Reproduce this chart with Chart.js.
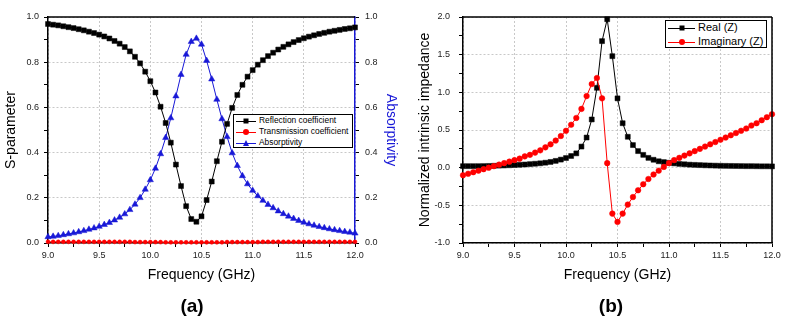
<!DOCTYPE html>
<html lang="en">
<head>
<meta charset="UTF-8">
<title>Absorber S-parameters and impedance</title>
<script src="https://cdn.jsdelivr.net/npm/chart.js"></script>
<style>
    body { margin: 0; background: #fff; font-family: 'Liberation Sans', Arial, sans-serif; }
    #wrap { position: relative; width: 787px; height: 320px; overflow: hidden; }
    canvas { position: absolute; top: 0; }
    #chartA { left: 0; }
    #chartB { left: 400px; }
    .legend { position: absolute; background: #fff; border: 1px solid #000; box-sizing: border-box; color: #000; }
    .legend .row { position: absolute; left: 2px; white-space: nowrap; }
    .legend .sample { position: absolute; left: 0; top: 0; height: 100%; }
    .legend .sample::before { content: ''; position: absolute; left: 0; right: 0; top: 50%; border-top: 1px solid var(--c); }
    .legend .mk { position: absolute; left: 50%; top: 50%; transform: translate(-50%, -50%); background: var(--c); }
    .legend .mk.rect { width: 5px; height: 5px; }
    .legend .mk.circle { width: 6px; height: 6px; border-radius: 50%; }
    .legend .mk.triangle { width: 0; height: 0; background: none; border-left: 3px solid transparent; border-right: 3px solid transparent; border-bottom: 6px solid var(--c); }
    .legend .txt { position: absolute; top: 0; }
    .panel { position: absolute; top: 295px; font-weight: bold; font-size: 19px; color: #000; transform: translateX(-50%); }
</style>
</head>
<body>
<div id="wrap">
    <canvas id="chartA" width="400" height="320"></canvas>
    <canvas id="chartB" width="387" height="320"></canvas>
    <div id="legendA" class="legend" style="left:233px; top:114px; width:120px; height:34px; font-size:8.4px;"></div>
    <div id="legendB" class="legend" style="left:665px; top:20px; width:102px; height:28px; font-size:11px;"></div>
    <div class="panel" style="left:192px;">(a)</div>
    <div class="panel" style="left:611px;">(b)</div>
</div>

<script>
// frequency axis, GHz
var freq = [
    9.00, 9.05, 9.10, 9.15, 9.20, 9.25, 9.30, 9.35, 9.40, 9.45,
    9.50, 9.55, 9.60, 9.65, 9.70, 9.75, 9.80, 9.85, 9.90, 9.95,
    10.00, 10.05, 10.10, 10.15, 10.20, 10.25, 10.30, 10.35, 10.40, 10.45,
    10.50, 10.55, 10.60, 10.65, 10.70, 10.75, 10.80, 10.85, 10.90, 10.95,
    11.00, 11.05, 11.10, 11.15, 11.20, 11.25, 11.30, 11.35, 11.40, 11.45,
    11.50, 11.55, 11.60, 11.65, 11.70, 11.75, 11.80, 11.85, 11.90, 11.95,
    12.00
];

// panel (a)
var reflection = [
    0.969, 0.966, 0.963, 0.959, 0.955, 0.951, 0.946, 0.941, 0.935, 0.929,
    0.922, 0.914, 0.905, 0.894, 0.882, 0.867, 0.848, 0.824, 0.795, 0.758,
    0.716, 0.666, 0.603, 0.531, 0.444, 0.347, 0.252, 0.163, 0.106, 0.094,
    0.118, 0.190, 0.272, 0.362, 0.448, 0.527, 0.598, 0.655, 0.700, 0.736,
    0.765, 0.789, 0.809, 0.827, 0.842, 0.856, 0.868, 0.879, 0.889, 0.898,
    0.906, 0.913, 0.919, 0.925, 0.930, 0.935, 0.939, 0.943, 0.947, 0.950,
    0.954
];
var transmission = [
    0.005, 0.005, 0.005, 0.005, 0.005, 0.005, 0.005, 0.005, 0.005, 0.005,
    0.005, 0.005, 0.005, 0.005, 0.005, 0.005, 0.005, 0.004, 0.004, 0.004,
    0.004, 0.004, 0.004, 0.003, 0.003, 0.003, 0.003, 0.003, 0.003, 0.003,
    0.003, 0.003, 0.003, 0.003, 0.003, 0.004, 0.004, 0.004, 0.004, 0.004,
    0.004, 0.004, 0.005, 0.005, 0.005, 0.005, 0.005, 0.005, 0.005, 0.005,
    0.005, 0.005, 0.005, 0.005, 0.005, 0.005, 0.005, 0.005, 0.005, 0.005,
    0.005
];
var absorptivity = [
    0.027, 0.029, 0.032, 0.036, 0.040, 0.044, 0.049, 0.054, 0.060, 0.066,
    0.073, 0.081, 0.090, 0.101, 0.113, 0.128, 0.147, 0.171, 0.200, 0.237,
    0.279, 0.330, 0.394, 0.466, 0.553, 0.650, 0.745, 0.834, 0.891, 0.905,
    0.879, 0.807, 0.725, 0.635, 0.549, 0.470, 0.398, 0.342, 0.297, 0.261,
    0.232, 0.208, 0.188, 0.170, 0.155, 0.141, 0.129, 0.118, 0.108, 0.099,
    0.091, 0.084, 0.078, 0.072, 0.067, 0.062, 0.058, 0.054, 0.050, 0.047,
    0.043
];

// panel (b)
var realZ = [
    0.020, 0.020, 0.020, 0.020, 0.021, 0.023, 0.025, 0.027, 0.029, 0.032,
    0.035, 0.038, 0.042, 0.047, 0.052, 0.058, 0.066, 0.076, 0.090, 0.107,
    0.128, 0.155, 0.190, 0.280, 0.400, 0.640, 1.060, 1.680, 1.970, 1.480,
    0.920, 0.590, 0.410, 0.300, 0.220, 0.170, 0.130, 0.105, 0.085, 0.074,
    0.065, 0.057, 0.050, 0.045, 0.040, 0.037, 0.034, 0.031, 0.029, 0.027,
    0.025, 0.024, 0.023, 0.022, 0.021, 0.020, 0.020, 0.019, 0.018, 0.018,
    0.017
];
var imagZ = [
    -0.10, -0.08, -0.06, -0.04, -0.02, 0.00, 0.02, 0.04, 0.06, 0.08,
    0.10, 0.12, 0.15, 0.17, 0.20, 0.23, 0.27, 0.31, 0.36, 0.42,
    0.49, 0.57, 0.66, 0.78, 0.95, 1.11, 1.19, 0.92, 0.06, -0.61,
    -0.72, -0.61, -0.49, -0.39, -0.30, -0.22, -0.15, -0.09, -0.04, 0.01,
    0.06, 0.10, 0.13, 0.16, 0.19, 0.22, 0.25, 0.28, 0.31, 0.34,
    0.37, 0.40, 0.43, 0.46, 0.49, 0.52, 0.56, 0.59, 0.63, 0.67,
    0.71
];

var BLUE = 'rgb(24, 24, 215)';
var RED = 'rgb(255, 0, 0)';
var GRID = 'rgb(200, 200, 200)';

Chart.defaults.font.family = "'Liberation Sans', Arial, sans-serif";
Chart.defaults.color = '#222';

function pts(ys) {
    return freq.map(function (f, i) { return { x: f, y: ys[i] }; });
}

function isMajor(v, step) {
    return Math.abs(v / step - Math.round(v / step)) < 1e-6;
}

// axis with minor ticks: labels and grid lines only at the major step
function axis(min, max, minor, major, extra) {
    var a = {
        type: 'linear',
        min: min,
        max: max,
        ticks: {
            stepSize: minor,
            autoSkip: false,
            maxRotation: 0,
            font: { size: 9 },
            callback: function (v) { return isMajor(v, major) ? v.toFixed(1) : ''; }
        },
        grid: {
            color: function (c) { return c.tick && isMajor(c.tick.value, major) ? GRID : 'transparent'; },
            tickColor: '#000',
            tickLength: 4,
            lineWidth: 1
        },
        border: { display: true, color: '#000', width: 1.5, dash: [2, 2] }
    };
    for (var k in extra) {
        var v = extra[k];
        if (v && typeof v === 'object' && !Array.isArray(v)) {
            a[k] = Object.assign({}, a[k] || {}, v);
        } else {
            a[k] = v;
        }
    }
    return a;
}

// closes the box round the plot area
var frame = {
    id: 'frame',
    afterDraw: function (chart, args, opts) {
        var ctx = chart.ctx, a = chart.chartArea;
        ctx.save();
        ctx.strokeStyle = '#000';
        ctx.lineWidth = 1.5;
        ctx.beginPath();
        ctx.moveTo(a.left, a.top);
        ctx.lineTo(a.right, a.top);
        if (opts.right) {
            ctx.moveTo(a.right, a.top);
            ctx.lineTo(a.right, a.bottom);
        }
        ctx.stroke();
        ctx.restore();
    }
};

function series(label, ys, color, style, radius, extra) {
    var d = {
        label: label,
        data: pts(ys),
        borderColor: color,
        backgroundColor: color,
        pointBackgroundColor: color,
        pointBorderColor: color,
        pointBorderWidth: 0.5,
        pointStyle: style,
        pointRadius: radius,
        borderWidth: 1,
        tension: 0,
        clip: false
    };
    return Object.assign(d, extra || {});
}

var xTitle = { display: true, text: 'Frequency (GHz)', color: '#000', font: { size: 14 }, padding: { top: 0, bottom: 36 } };

var chartA = new Chart(document.getElementById('chartA'), {
    type: 'line',
    data: {
        datasets: [
            series('Reflection coefficient', reflection, '#000', 'rect', 3.5, { yAxisID: 'y' }),
            series('Transmission coefficient', transmission, RED, 'circle', 2, { yAxisID: 'y' }),
            series('Absorptivity', absorptivity, BLUE, 'triangle', 3.6, { yAxisID: 'y1' })
        ]
    },
    options: {
        responsive: false,
        animation: false,
        layout: { padding: { top: 17, left: 0, right: 0, bottom: 0 } },
        plugins: { legend: { display: false }, tooltip: { enabled: false }, frame: { right: false } },
        scales: {
            x: axis(9, 12, 0.25, 0.5, {
                ticks: { padding: 3 },
                title: xTitle,
                afterFit: function (s) { s.height = 77; }
            }),
            y: axis(0, 1, 0.1, 0.2, {
                ticks: { padding: 5 },
                title: { display: true, text: 'S-parameter', color: '#000', font: { size: 14 }, padding: { top: 3, bottom: 0 } },
                afterFit: function (s) { s.width = 48; }
            }),
            y1: axis(0, 1, 0.1, 0.2, {
                position: 'right',
                ticks: { padding: 6 },
                grid: { drawOnChartArea: false },
                border: { color: BLUE },
                title: { display: true, text: 'Absorptivity', color: BLUE, font: { size: 14 }, padding: { top: 1, bottom: 0 } },
                afterFit: function (s) { s.width = 45; }
            })
        }
    },
    plugins: [frame]
});

var chartB = new Chart(document.getElementById('chartB'), {
    type: 'line',
    data: {
        datasets: [
            series('Real (Z)', realZ, '#000', 'rect', 3.5, { order: 1 }),
            series('Imaginary (Z)', imagZ, RED, 'circle', 2.8, { order: 0 })
        ]
    },
    options: {
        responsive: false,
        animation: false,
        layout: { padding: { top: 17, left: 0, right: 15, bottom: 0 } },
        plugins: { legend: { display: false }, tooltip: { enabled: false }, frame: { right: true } },
        scales: {
            x: axis(9, 12, 0.25, 0.5, {
                ticks: { padding: 3 },
                title: xTitle,
                afterFit: function (s) { s.height = 77; }
            }),
            y: axis(-1, 2, 0.25, 0.5, {
                ticks: { padding: 9 },
                title: { display: true, text: 'Normalized intrinsic impedance', color: '#000', font: { size: 14 }, padding: { top: 17, bottom: 0 } },
                afterFit: function (s) { s.width = 63; }
            })
        }
    },
    plugins: [frame]
});

// Origin-style legend: line through the marker, then the label
function buildLegend(chart, el, sampleW, rowTops, rowH) {
    chart.data.datasets.forEach(function (ds, i) {
        var row = document.createElement('div');
        row.className = 'row';
        row.style.top = rowTops[i] + 'px';
        row.style.height = rowH + 'px';
        row.style.lineHeight = rowH + 'px';

        var sample = document.createElement('span');
        sample.className = 'sample';
        sample.style.width = sampleW + 'px';
        sample.style.setProperty('--c', ds.borderColor);
        var mk = document.createElement('span');
        mk.className = 'mk ' + ds.pointStyle;
        sample.appendChild(mk);

        var txt = document.createElement('span');
        txt.className = 'txt';
        txt.style.left = (sampleW + 3) + 'px';
        txt.textContent = ds.label;

        row.appendChild(sample);
        row.appendChild(txt);
        el.appendChild(row);
    });
}

buildLegend(chartA, document.getElementById('legendA'), 20, [0, 11, 22], 11);
buildLegend(chartB, document.getElementById('legendB'), 27, [0, 14], 13);
</script>
</body>
</html>
